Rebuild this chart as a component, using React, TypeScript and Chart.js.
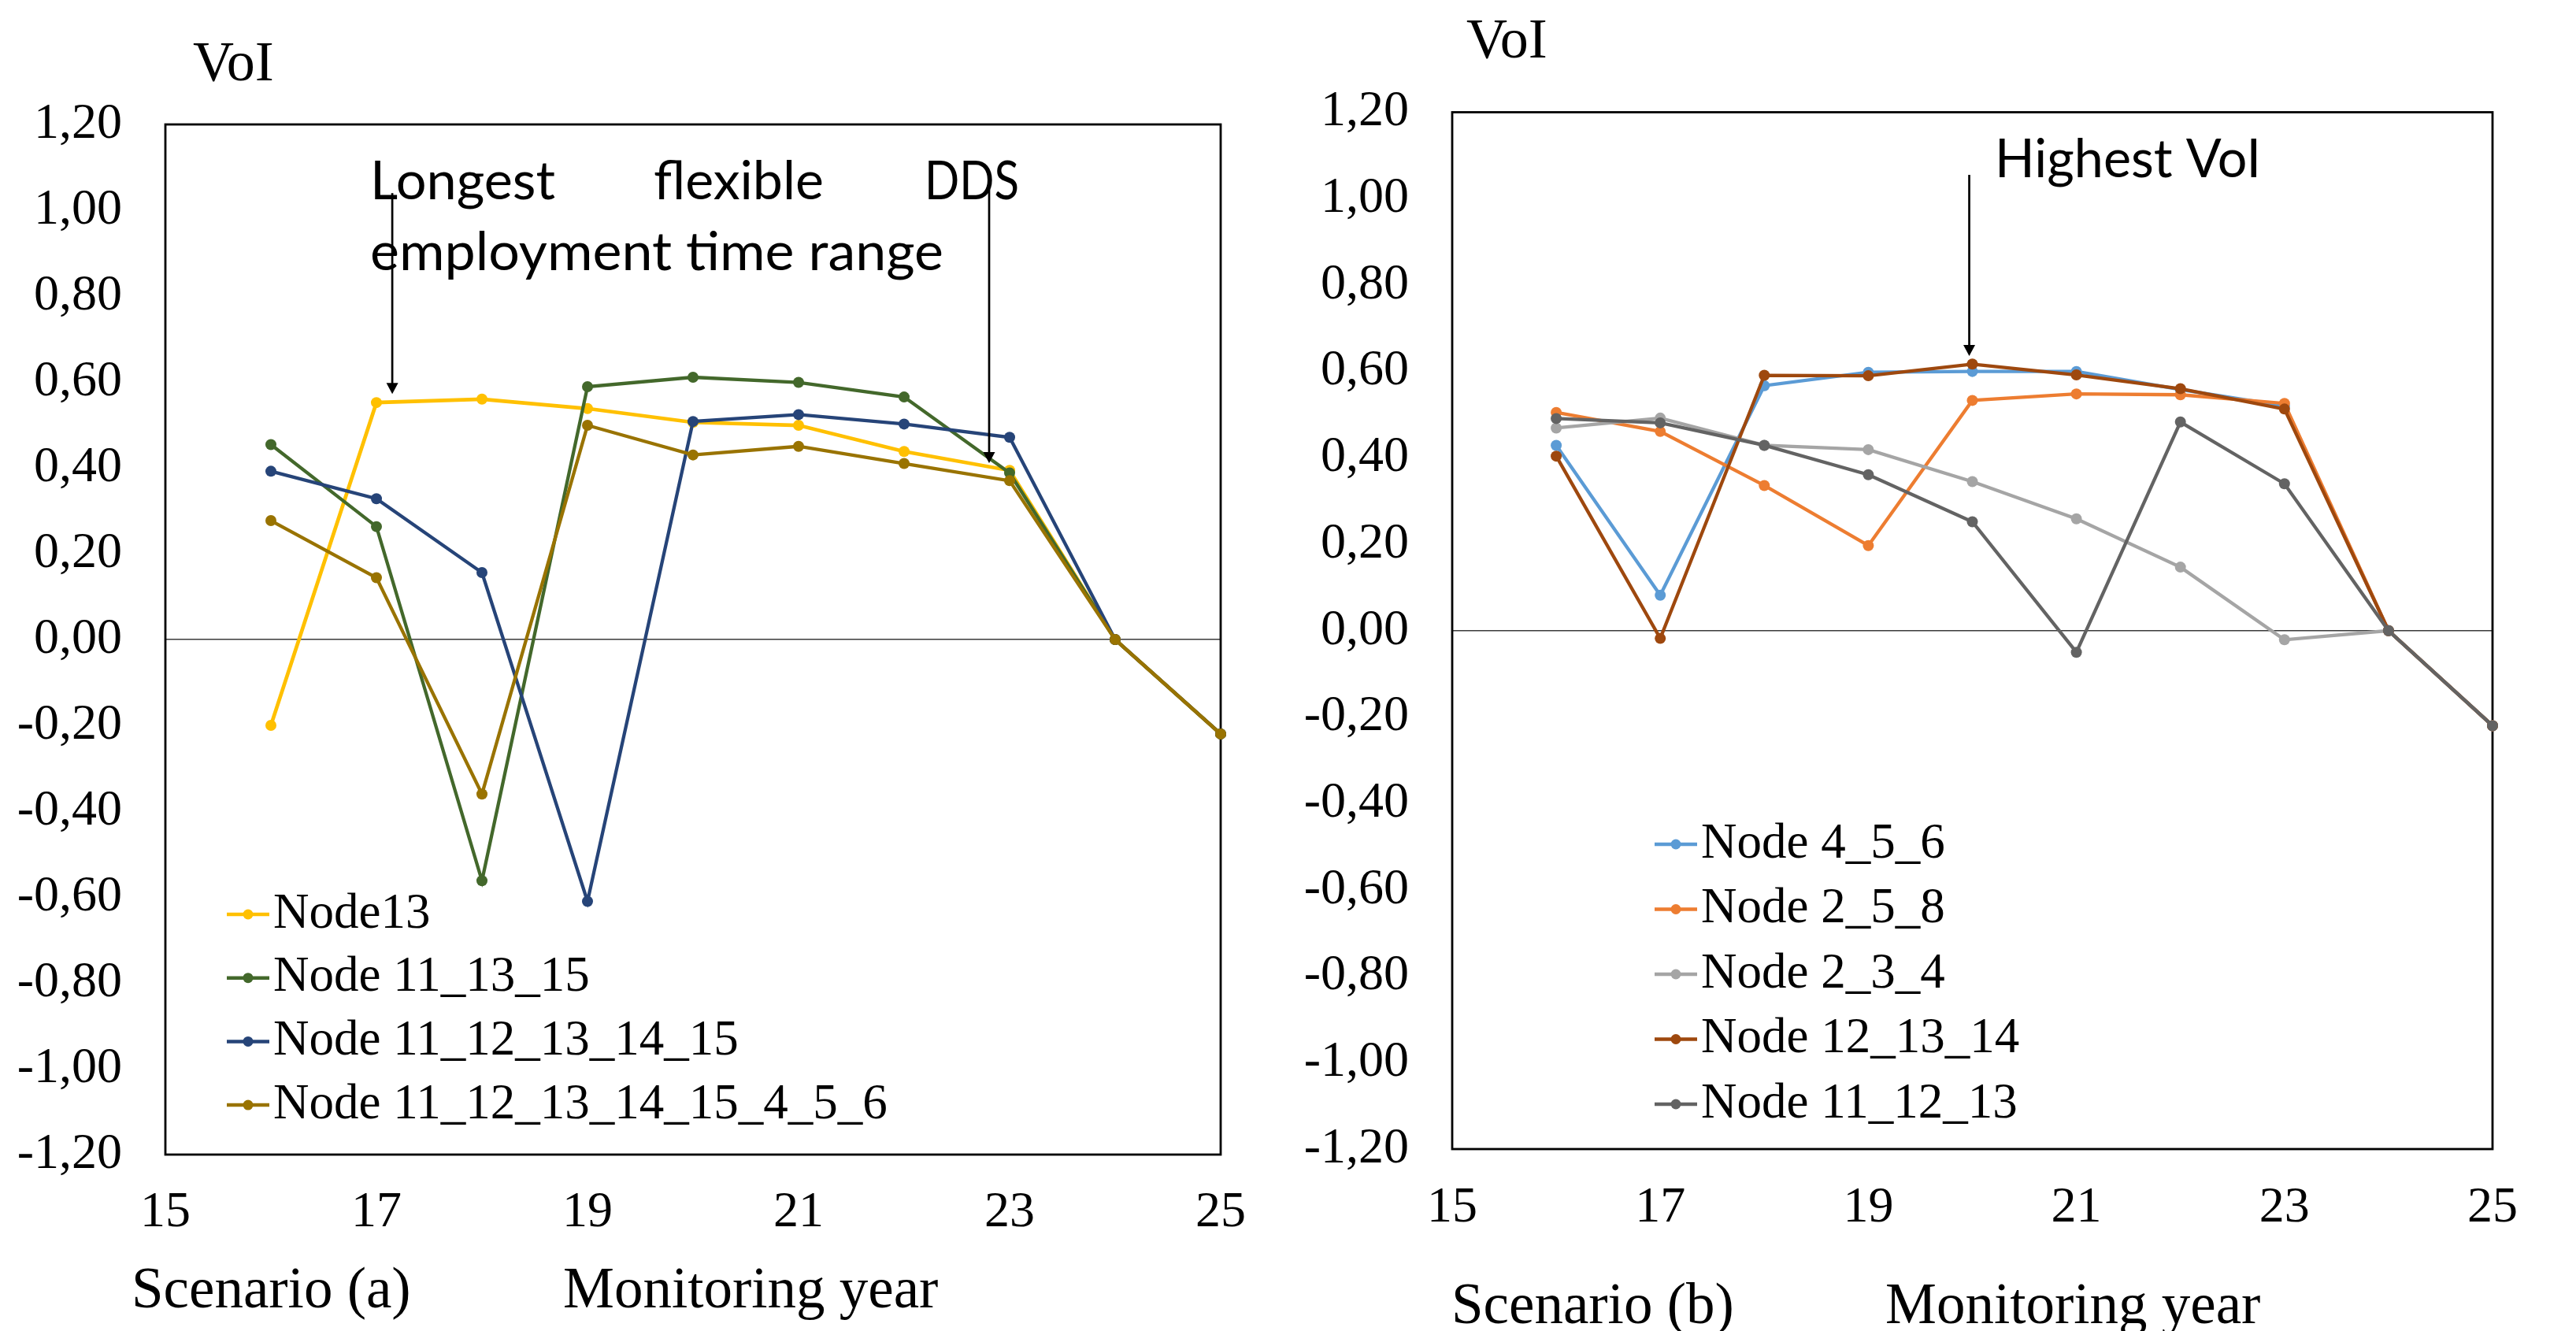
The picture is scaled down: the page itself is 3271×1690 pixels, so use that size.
import React, { useEffect, useRef } from 'react';
import { Chart, registerables } from 'chart.js';

Chart.register(...registerables);

// ---------- data ----------
const YEARS = [16, 17, 18, 19, 20, 21, 22, 23, 24, 25];
const X_TICKS = [15, 17, 19, 21, 23, 25];
const Y_TICKS = [-1.2, -1.0, -0.8, -0.6, -0.4, -0.2, 0, 0.2, 0.4, 0.6, 0.8, 1.0, 1.2];

// Scenario (a)
const A_LABELS = ['Node13', 'Node 11_13_15', 'Node 11_12_13_14_15', 'Node 11_12_13_14_15_4_5_6'];
const A_COLORS = ['#FFC000', '#43682B', '#264478', '#997300'];
const A_NODE13 = [-0.2, 0.552, 0.56, 0.538, 0.506, 0.499, 0.438, 0.394, 0, -0.22];
const A_NODE11_13_15 = [0.454, 0.263, -0.562, 0.589, 0.611, 0.599, 0.565, 0.388, 0, -0.22];
const A_NODE11_12_13_14_15 = [0.392, 0.328, 0.156, -0.61, 0.508, 0.524, 0.502, 0.471, 0, -0.22];
const A_NODE11_15_4_5_6 = [0.277, 0.144, -0.36, 0.499, 0.43, 0.45, 0.41, 0.37, 0, -0.22];

// Scenario (b)
const B_LABELS = ['Node 4_5_6', 'Node 2_5_8', 'Node 2_3_4', 'Node 12_13_14', 'Node 11_12_13'];
const B_COLORS = ['#5B9BD5', '#ED7D31', '#A5A5A5', '#9E480E', '#636363'];
const B_NODE4_5_6 = [0.429, 0.082, 0.567, 0.598, 0.6, 0.6, 0.558, 0.52, 0, -0.22];
const B_NODE2_5_8 = [0.505, 0.461, 0.336, 0.197, 0.533, 0.548, 0.546, 0.526, 0, -0.22];
const B_NODE2_3_4 = [0.469, 0.492, 0.429, 0.419, 0.345, 0.259, 0.147, -0.021, 0, -0.22];
const B_NODE12_13_14 = [0.404, -0.018, 0.591, 0.59, 0.617, 0.592, 0.56, 0.513, 0, -0.22];
const B_NODE11_12_13 = [0.491, 0.481, 0.429, 0.361, 0.252, -0.05, 0.483, 0.34, 0, -0.22];

const SERIF = "'Liberation Serif', 'Times New Roman', serif";
const SANS = "Lato, 'Open Sans', sans-serif";

function fmt(v: number): string {
  const r = Math.abs(v) < 1e-9 ? 0 : v;
  return r.toFixed(2).replace('.', ',');
}

interface Note {
  text: string;
  x: number;
  y: number;
  w: number;
}

interface Decor {
  voi: { x: number; y: number };
  titles: { text: string; x: number; y: number }[];
  notes: Note[];
  arrows: { x: number; y1: number; y2: number }[];
  legend: { x: number; y0: number; dy: number };
}

function decorPlugin(d: Decor) {
  return {
    id: 'decor',
    beforeDatasetsDraw(chart: any) {
      const { ctx, chartArea: a } = chart;
      ctx.save();
      ctx.strokeStyle = '#000';
      ctx.lineWidth = 2.8;
      ctx.strokeRect(a.left, a.top, a.right - a.left, a.bottom - a.top);
      ctx.restore();
    },
    afterDraw(chart: any) {
      const ctx: CanvasRenderingContext2D = chart.ctx;
      const xs = chart.scales.x;
      const ys = chart.scales.y;
      ctx.save();
      ctx.fillStyle = '#000';
      ctx.textAlign = 'left';
      ctx.textBaseline = 'alphabetic';
      ctx.font = `72px ${SERIF}`;
      ctx.fillText('VoI', d.voi.x, d.voi.y);
      ctx.font = `73px ${SERIF}`;
      d.titles.forEach((t) => ctx.fillText(t.text, t.x, t.y));
      ctx.font = `68px ${SANS}`;
      d.notes.forEach((t) => {
        const m = ctx.measureText(t.text).width;
        const sx = m > 0 ? t.w / m : 1;
        ctx.save();
        ctx.translate(t.x, t.y);
        ctx.scale(sx, 1);
        ctx.fillText(t.text, 0, 0);
        ctx.restore();
      });

      d.arrows.forEach((ar) => {
        const x = xs.getPixelForValue(ar.x);
        const y1 = ys.getPixelForValue(ar.y1);
        const y2 = ys.getPixelForValue(ar.y2);
        ctx.strokeStyle = '#000';
        ctx.lineWidth = 2.7;
        ctx.beginPath();
        ctx.moveTo(x, y1);
        ctx.lineTo(x, y2 - 12);
        ctx.stroke();
        ctx.beginPath();
        ctx.moveTo(x - 7.5, y2 - 14);
        ctx.lineTo(x + 7.5, y2 - 14);
        ctx.lineTo(x, y2);
        ctx.closePath();
        ctx.fill();
      });

      ctx.font = `63px ${SERIF}`;
      ctx.textBaseline = 'middle';
      chart.data.datasets.forEach((ds: any, i: number) => {
        const y = d.legend.y0 + i * d.legend.dy;
        const x0 = d.legend.x;
        ctx.strokeStyle = ds.borderColor;
        ctx.lineWidth = 4.5;
        ctx.beginPath();
        ctx.moveTo(x0, y);
        ctx.lineTo(x0 + 54, y);
        ctx.stroke();
        ctx.fillStyle = ds.borderColor;
        ctx.beginPath();
        ctx.arc(x0 + 27, y, 6.5, 0, Math.PI * 2);
        ctx.fill();
        ctx.fillStyle = '#000';
        ctx.fillText(ds.label, x0 + 59, y);
      });
      ctx.restore();
    },
  };
}

interface PanelCfg {
  labels: string[];
  colors: string[];
  series: number[][];
  padding: { top: number; right: number; left: number; bottom: number };
  yWidth: number;
  xHeight: number;
  xPad: number;
  decor: Decor;
}

function buildChart(canvas: HTMLCanvasElement, cfg: PanelCfg) {
  const n = cfg.series.length;
  const datasets = cfg.series.map((vals, i) => ({
    label: cfg.labels[i],
    data: YEARS.map((yr, j) => ({ x: yr, y: vals[j] })),
    borderColor: cfg.colors[i],
    backgroundColor: cfg.colors[i],
    pointBackgroundColor: cfg.colors[i],
    pointBorderColor: cfg.colors[i],
    pointBorderWidth: 0,
    pointRadius: 7,
    borderWidth: i === 0 && n === 4 ? 4.7 : 4.3,
    tension: 0,
    clip: false as any,
    order: n - 1 - i,
  }));
  return new Chart(canvas, {
    type: 'line',
    data: { datasets },
    plugins: [decorPlugin(cfg.decor)],
    options: {
      responsive: false,
      animation: false,
      devicePixelRatio: 1,
      events: [],
      layout: { padding: cfg.padding },
      plugins: { legend: { display: false }, tooltip: { enabled: false } },
      scales: {
        x: {
          type: 'linear',
          min: 15,
          max: 25,
          afterBuildTicks: (s: any) => {
            s.ticks = X_TICKS.map((v) => ({ value: v }));
          },
          afterFit: (s: any) => {
            s.height = cfg.xHeight;
          },
          grid: { display: false, drawTicks: false },
          border: { display: false },
          ticks: {
            autoSkip: false,
            maxRotation: 0,
            padding: cfg.xPad,
            color: '#000',
            font: { family: SERIF, size: 64 },
          },
        },
        y: {
          type: 'linear',
          min: -1.2,
          max: 1.2,
          afterBuildTicks: (s: any) => {
            s.ticks = Y_TICKS.map((v) => ({ value: v }));
          },
          afterFit: (s: any) => {
            s.width = cfg.yWidth;
          },
          grid: {
            drawTicks: false,
            lineWidth: 1.5,
            color: (c: any) => (c.tick && Math.abs(c.tick.value) < 1e-9 ? '#3a3a3a' : 'rgba(0,0,0,0)'),
          },
          border: { display: false },
          ticks: {
            autoSkip: false,
            padding: 55,
            color: '#000',
            font: { family: SERIF, size: 64 },
            callback: (v: any) => fmt(Number(v)),
          },
        },
      },
    },
  });
}

const PANEL_A: PanelCfg = {
  labels: A_LABELS,
  colors: A_COLORS,
  series: [A_NODE13, A_NODE11_13_15, A_NODE11_12_13_14_15, A_NODE11_15_4_5_6],
  padding: { top: 158, right: 80, left: 0, bottom: 0 },
  yWidth: 210,
  xHeight: 224,
  xPad: 36,
  decor: {
    voi: { x: 245, y: 102 },
    titles: [
      { text: 'Scenario (a)', x: 167, y: 1660 },
      { text: 'Monitoring year', x: 715, y: 1660 },
    ],
    notes: [
      { text: 'Longest', x: 470, y: 253, w: 235 },
      { text: 'flexible', x: 830, y: 253, w: 216 },
      { text: 'DDS', x: 1174, y: 253, w: 120 },
      { text: 'employment time range', x: 470, y: 343, w: 728 },
    ],
    arrows: [
      { x: 17.15, y1: 1.04, y2: 0.572 },
      { x: 22.806, y1: 1.049, y2: 0.411 },
    ],
    legend: { x: 288, y0: 1161, dy: 80.7 },
  },
};

const PANEL_B: PanelCfg = {
  labels: B_LABELS,
  colors: B_COLORS,
  series: [B_NODE4_5_6, B_NODE2_5_8, B_NODE2_3_4, B_NODE12_13_14, B_NODE11_12_13],
  padding: { top: 142.5, right: 106, left: 0, bottom: 0 },
  yWidth: 214,
  xHeight: 231,
  xPad: 37,
  decor: {
    voi: { x: 232, y: 73 },
    titles: [
      { text: 'Scenario (b)', x: 213, y: 1680 },
      { text: 'Monitoring year', x: 764, y: 1680 },
    ],
    notes: [{ text: 'Highest VoI', x: 903, y: 225, w: 338 }],
    arrows: [{ x: 19.97, y1: 1.055, y2: 0.636 }],
    legend: { x: 471, y0: 1072, dy: 82.5 },
  },
};

function Panel({ cfg, left, width }: { cfg: PanelCfg; left: number; width: number }) {
  const ref = useRef<HTMLCanvasElement | null>(null);
  useEffect(() => {
    if (!ref.current) return;
    const chart = buildChart(ref.current, cfg);
    return () => chart.destroy();
  }, [cfg]);
  return (
    <canvas
      ref={ref}
      width={width}
      height={1690}
      style={{ position: 'absolute', left, top: 0, width, height: 1690 }}
    />
  );
}

export default function App() {
  return (
    <div
      style={{
        position: 'absolute',
        left: 0,
        top: 0,
        width: 3271,
        height: 1690,
        background: '#fff',
        overflow: 'hidden',
      }}
    >
      <Panel cfg={PANEL_A} left={0} width={1630} />
      <Panel cfg={PANEL_B} left={1630} width={1641} />
    </div>
  );
}
